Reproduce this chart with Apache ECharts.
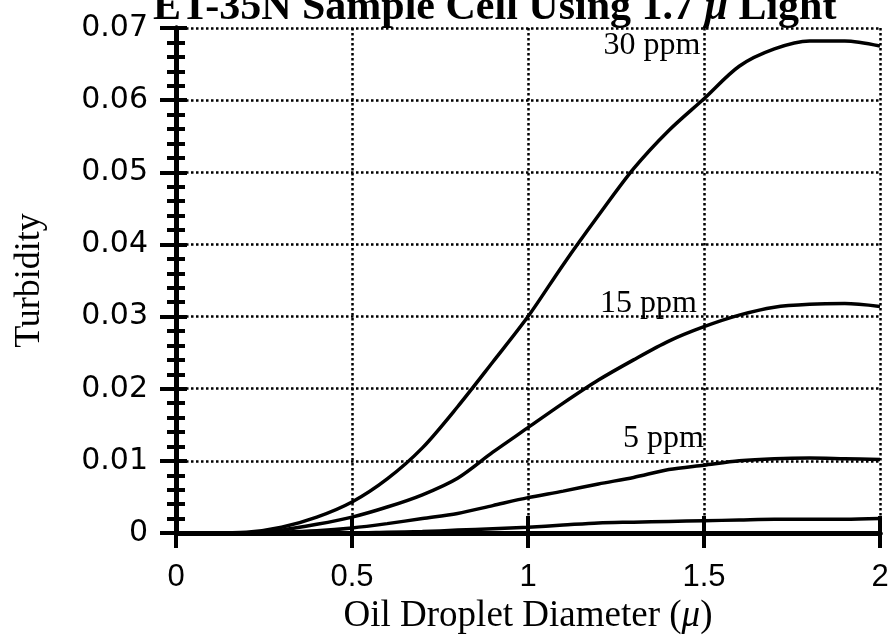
<!DOCTYPE html>
<html>
<head>
<meta charset="utf-8">
<script src="https://cdn.jsdelivr.net/npm/echarts@6/dist/echarts.min.js"></script>
<style>html,body{margin:0;padding:0;background:#fff;}#c{width:891px;height:637px;}</style>
</head>
<body>
<div id="c"></div>
<script>
const titleText = 'ET-35N Sample Cell Using 1.7 {i|μ} Light';
const xName = 'Oil Droplet Diameter ({i|μ})';
const yName = 'Turbidity';
const xTicks = [0, 0.5, 1, 1.5, 2];
const yTicks = [0, 0.01, 0.02, 0.03, 0.04, 0.05, 0.06, 0.07];
const diameters = [0,0.1,0.2,0.3,0.4,0.5,0.6,0.7,0.8,0.9,1.0,1.1,1.2,1.3,1.4,1.5,1.6,1.7,1.8,1.9,2.0];
const ppm30 = [0,0,0.0001,0.0008,0.0022,0.0043,0.0075,0.0118,0.0175,0.0237,0.0300,0.0372,0.0440,0.0505,0.0558,0.0602,0.0647,0.0671,0.0682,0.0682,0.0675];
const ppm15 = [0,0,0,0.0004,0.0012,0.0022,0.0036,0.0053,0.0076,0.0112,0.0146,0.0180,0.0212,0.0240,0.0266,0.0286,0.0302,0.0313,0.0317,0.0318,0.0314];
const ppm5  = [0,0,0,0.0001,0.0003,0.0007,0.0013,0.0020,0.0027,0.0038,0.0049,0.0058,0.0068,0.0077,0.0088,0.0094,0.0100,0.0103,0.0104,0.0103,0.0102];
const ppm1  = [0,0,0,0,0,0,0.0001,0.0002,0.0004,0.0006,0.0008,0.0011,0.0014,0.0015,0.0016,0.0017,0.0018,0.0019,0.0019,0.0019,0.0020];
const curveLabels = ['30 ppm', '15 ppm', '5 ppm'];
const labelCoords = [[1.49, 0.0676], [1.48, 0.0318], [1.50, 0.0131]];

const serif = '"Liberation Serif", "Times New Roman", serif';
const sans = '"Liberation Sans", Arial, sans-serif';
const sansY = '"DejaVu Sans", Verdana, sans-serif';
const chart = echarts.init(document.getElementById('c'), null, {renderer: 'canvas'});
const pair = arr => diameters.map((d, i) => [d, arr[i]]);
const lineSeries = (name, arr, lab, coord) => ({
  name, type: 'line', data: pair(arr), symbol: 'none', smooth: 0.3,
  lineStyle: {color: '#000', width: 3.5}, z: 5,
  markPoint: lab ? {
    symbol: 'circle', symbolSize: 0, silent: true,
    label: {show: true, position: 'inside', align: 'right', verticalAlign: 'middle',
      color: '#000', fontFamily: serif, fontSize: 32, formatter: p => p.name},
    data: [{name: lab, coord}]
  } : undefined
});
const xMin = xTicks[0], xMax = xTicks[xTicks.length-1], xInt = xTicks[1]-xTicks[0];
const yMin = yTicks[0], yMax = yTicks[yTicks.length-1], yInt = yTicks[1]-yTicks[0];
const tickStyle = {color: '#000', width: 4};
const gridStyle = {color: '#000', width: 2.5, type: [2.5, 2.5]};
chart.setOption({
  animation: false,
  backgroundColor: '#fff',
  grid: {left: 176, right: 11, top: 28, bottom: 104, containLabel: false, outerBoundsMode: 'none'},
  graphic: [{
    type: 'text', left: 153, top: -13,
    style: {text: titleText, fontFamily: serif, fontWeight: 'bold', fontSize: 42, fill: '#000',
      rich: {i: {fontFamily: serif, fontWeight: 'bold', fontStyle: 'italic', fontSize: 42}}}
  }],
  xAxis: [{
    type: 'value', position: 'bottom', min: xMin, max: xMax, interval: xInt,
    axisLine: {show: true, lineStyle: {color: '#000', width: 5}},
    axisTick: {show: true, length: 15, lineStyle: tickStyle},
    axisLabel: {color: '#000', fontFamily: sans, fontSize: 31, margin: 29,
      formatter: v => String(v)},
    splitLine: {show: true, lineStyle: gridStyle},
    name: xName, nameLocation: 'middle', nameGap: 50,
    nameTextStyle: {color: '#000', fontFamily: serif, fontSize: 37,
      rich: {i: {fontFamily: serif, fontStyle: 'italic', fontSize: 37, color: '#000'}}}
  }, {
    type: 'value', position: 'top', min: xMin, max: xMax, interval: xInt,
    axisLine: {show: true, lineStyle: {color: '#000', width: 5}},
    axisTick: {show: true, length: 17, lineStyle: tickStyle},
    axisLabel: {show: false}, splitLine: {show: false}
  }],
  yAxis: [{
    type: 'value', position: 'left', min: yMin, max: yMax, interval: yInt,
    axisLine: {show: true, lineStyle: {color: '#000', width: 5}},
    axisTick: {show: true, length: 16, lineStyle: tickStyle},
    minorTick: {show: true, splitNumber: 5, length: 9, lineStyle: tickStyle},
    axisLabel: {color: '#000', fontFamily: sansY, fontSize: 30, margin: 28,
      formatter: v => v === 0 ? '0' : v.toFixed(2)},
    splitLine: {show: true, lineStyle: gridStyle},
    name: yName, nameLocation: 'middle', nameGap: 128,
    nameTextStyle: {color: '#000', fontFamily: serif, fontSize: 36}
  }, {
    type: 'value', position: 'right', min: yMin, max: yMax, interval: yInt,
    axisLine: {show: true, lineStyle: {color: '#000', width: 5}},
    axisTick: {show: true, length: 11, lineStyle: tickStyle},
    minorTick: {show: true, splitNumber: 5, length: 9, lineStyle: tickStyle},
    axisLabel: {show: false}, splitLine: {show: false}
  }],
  series: [
    lineSeries('30 ppm', ppm30, curveLabels[0], labelCoords[0]),
    lineSeries('15 ppm', ppm15, curveLabels[1], labelCoords[1]),
    lineSeries('5 ppm', ppm5, curveLabels[2], labelCoords[2]),
    lineSeries('1 ppm', ppm1, null, null)
  ]
});
</script>
</body>
</html>
